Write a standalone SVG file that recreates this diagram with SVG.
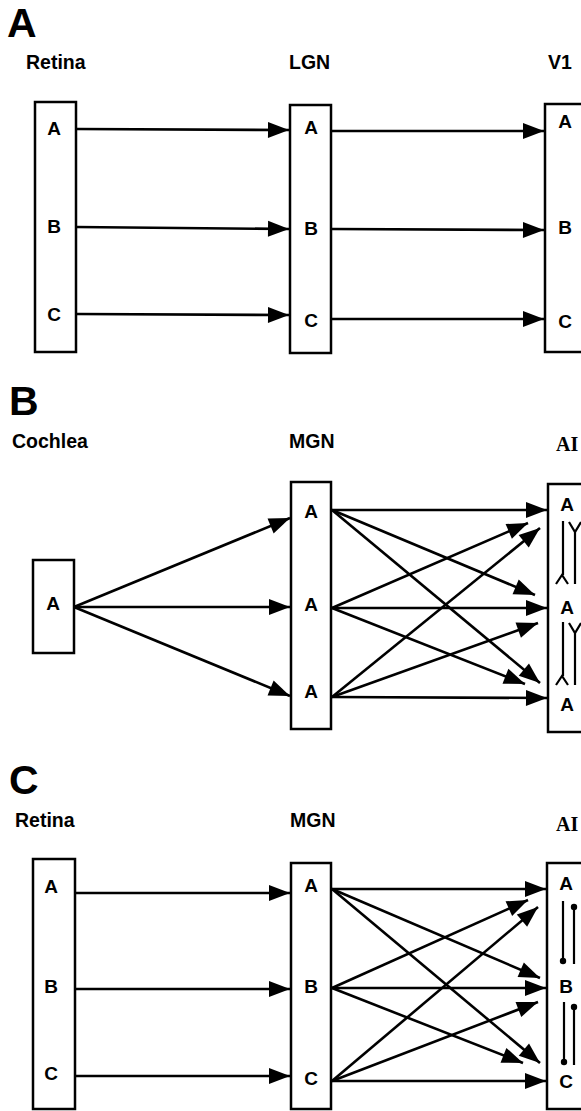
<svg xmlns="http://www.w3.org/2000/svg" width="581" height="1111" viewBox="0 0 581 1111">
<style>
.bg{fill:#fff}
.box{fill:#fff;stroke:#000;stroke-width:2.5}
.panel{font-family:"Liberation Sans",Arial,sans-serif;font-weight:bold;font-size:41px;fill:#000}
.col{font-family:"Liberation Sans",Arial,sans-serif;font-weight:bold;font-size:19.5px;fill:#000}
.colai{font-family:"Liberation Serif","Times New Roman",serif;font-weight:bold;font-size:20px;fill:#000}
.lt{font-family:"Liberation Sans",Arial,sans-serif;font-weight:bold;font-size:19px;fill:#000;text-anchor:middle}
.ln{stroke:#000;stroke-width:2.2;fill:none}
.arr{stroke:#000;stroke-width:2.6;fill:none;marker-end:url(#ah)}
.dot{fill:#000}
</style>
<defs>
<marker id="ah" markerUnits="userSpaceOnUse" markerWidth="24" markerHeight="18" refX="21" refY="8" orient="auto" overflow="visible">
<path d="M0,0 L21,8 L0,16 Z" fill="#000"/>
</marker>
</defs>
<rect class="bg" x="0" y="0" width="581" height="1111"/>

<!-- Panel A -->
<g id="panelA-labels">
<text class="panel" x="7" y="37">A</text>
<text class="col" x="26" y="69">Retina</text>
<text class="col" x="289" y="69">LGN</text>
<text class="col" x="548" y="69">V1</text>
</g>
<g id="A-retina">
<rect class="box" x="35" y="102" width="41" height="250"/>
<text class="lt" x="54" y="135">A</text>
<text class="lt" x="54" y="233">B</text>
<text class="lt" x="54" y="321">C</text>
</g>
<g id="A-lgn">
<rect class="box" x="290" y="105" width="41" height="248"/>
<text class="lt" x="311" y="134">A</text>
<text class="lt" x="311" y="235">B</text>
<text class="lt" x="311" y="327">C</text>
</g>
<g id="A-v1">
<rect class="box" x="545" y="104" width="60" height="248"/>
<text class="lt" x="565" y="128">A</text>
<text class="lt" x="565" y="234">B</text>
<text class="lt" x="565" y="328">C</text>
</g>
<g id="A-connectors">
<line class="arr" x1="76" y1="129" x2="289" y2="130"/>
<line class="arr" x1="76" y1="227" x2="289" y2="229"/>
<line class="arr" x1="76" y1="314" x2="289" y2="315"/>
<line class="arr" x1="332" y1="131" x2="544" y2="131"/>
<line class="arr" x1="332" y1="229" x2="544" y2="230"/>
<line class="arr" x1="332" y1="319" x2="544" y2="319"/>
</g>

<!-- Panel B -->
<g id="panelB-labels">
<text class="panel" x="9" y="415">B</text>
<text class="col" x="12" y="448">Cochlea</text>
<text class="col" x="289" y="448">MGN</text>
<text class="colai" x="556" y="451">AI</text>
</g>
<g id="B-cochlea">
<rect class="box" x="33" y="560" width="41" height="93"/>
<text class="lt" x="53" y="610">A</text>
</g>
<g id="B-mgn">
<rect class="box" x="291" y="482" width="40" height="247"/>
<text class="lt" x="311" y="518">A</text>
<text class="lt" x="311" y="611">A</text>
<text class="lt" x="311" y="698">A</text>
</g>
<g id="B-ai">
<rect class="box" x="548" y="484" width="60" height="248"/>
<text class="lt" x="567" y="511">A</text>
<text class="lt" x="567" y="614">A</text>
<text class="lt" x="567" y="711">A</text>
<g id="B-ai-synapses">
<path class="ln" d="M563,521 V575 M556,584 L562,575 L568,584"/>
<path class="ln" d="M575,584 V532 M569,522 L575,532 L581,522"/>
<path class="ln" d="M563,622 V676 M556,685 L562,676 L568,685"/>
<path class="ln" d="M575,685 V633 M569,623 L575,633 L581,623"/>
</g>
</g>
<g id="B-connectors">
<line class="arr" x1="74" y1="607" x2="290" y2="518"/>
<line class="arr" x1="74" y1="607" x2="290" y2="607"/>
<line class="arr" x1="74" y1="607" x2="290" y2="696"/>
<line class="arr" x1="332" y1="510" x2="547" y2="510"/>
<line class="arr" x1="332" y1="510" x2="535" y2="595"/>
<line class="arr" x1="332" y1="510" x2="540" y2="683"/>
<line class="arr" x1="332" y1="608" x2="547" y2="608"/>
<line class="arr" x1="332" y1="608" x2="528" y2="523"/>
<line class="arr" x1="332" y1="608" x2="525" y2="684"/>
<line class="arr" x1="332" y1="697" x2="547" y2="698"/>
<line class="arr" x1="332" y1="697" x2="540" y2="528"/>
<line class="arr" x1="332" y1="697" x2="538" y2="623"/>
</g>

<!-- Panel C -->
<g id="panelC-labels">
<text class="panel" x="9" y="794">C</text>
<text class="col" x="15" y="827">Retina</text>
<text class="col" x="290" y="827">MGN</text>
<text class="colai" x="556" y="831">AI</text>
</g>
<g id="C-retina">
<rect class="box" x="33" y="859" width="42" height="250"/>
<text class="lt" x="51" y="893">A</text>
<text class="lt" x="51" y="993">B</text>
<text class="lt" x="51" y="1080">C</text>
</g>
<g id="C-mgn">
<rect class="box" x="291" y="863" width="40" height="246"/>
<text class="lt" x="311" y="892">A</text>
<text class="lt" x="311" y="993">B</text>
<text class="lt" x="311" y="1085">C</text>
</g>
<g id="C-ai">
<rect class="box" x="547" y="863" width="60" height="246"/>
<text class="lt" x="566" y="890">A</text>
<text class="lt" x="566" y="993">B</text>
<text class="lt" x="566" y="1088">C</text>
<g id="C-ai-synapses">
<line class="ln" x1="563" y1="901" x2="563" y2="960"/>
<circle class="dot" cx="563" cy="961" r="3.2"/>
<line class="ln" x1="574" y1="907" x2="574" y2="964"/>
<circle class="dot" cx="574" cy="907" r="3.2"/>
<line class="ln" x1="564" y1="1002" x2="564" y2="1061"/>
<circle class="dot" cx="564" cy="1062" r="3.2"/>
<line class="ln" x1="574" y1="1007" x2="574" y2="1065"/>
<circle class="dot" cx="574" cy="1007" r="3.2"/>
</g>
</g>
<g id="C-connectors">
<line class="arr" x1="75" y1="893" x2="290" y2="893"/>
<line class="arr" x1="75" y1="989" x2="290" y2="989"/>
<line class="arr" x1="75" y1="1076" x2="290" y2="1076"/>
<line class="arr" x1="332" y1="889" x2="546" y2="889"/>
<line class="arr" x1="332" y1="889" x2="540" y2="978"/>
<line class="arr" x1="332" y1="889" x2="540" y2="1063"/>
<line class="arr" x1="332" y1="988" x2="546" y2="988"/>
<line class="arr" x1="332" y1="988" x2="528" y2="900"/>
<line class="arr" x1="332" y1="988" x2="523" y2="1063"/>
<line class="arr" x1="332" y1="1081" x2="546" y2="1081"/>
<line class="arr" x1="332" y1="1081" x2="538" y2="907"/>
<line class="arr" x1="332" y1="1081" x2="538" y2="1002"/>
</g>
</svg>
